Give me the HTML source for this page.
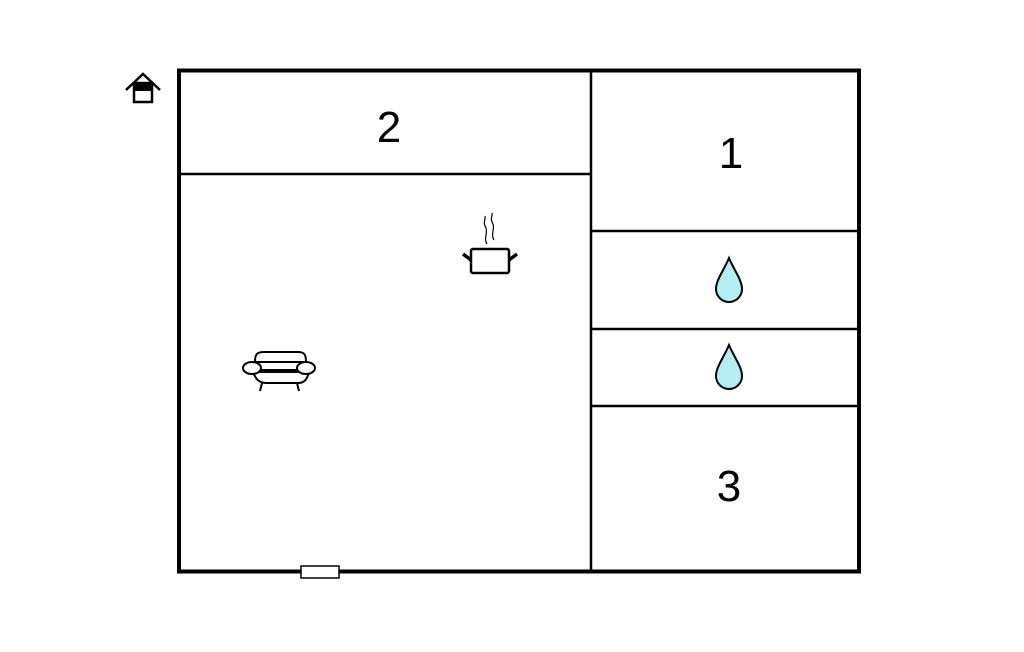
<!DOCTYPE html>
<html><head><style>html,body{margin:0;padding:0;background:#fff}svg{display:block}</style></head><body>
<svg width="1024" height="652" viewBox="0 0 1024 652" xmlns="http://www.w3.org/2000/svg">
<rect x="0" y="0" width="1024" height="652" fill="#fff"/>
<g stroke="#000" fill="none">
<rect x="179" y="70.5" width="680" height="501" stroke-width="4"/>
<line x1="591" y1="70" x2="591" y2="572" stroke-width="2.5"/>
<line x1="179" y1="174" x2="591" y2="174" stroke-width="2.5"/>
<line x1="591" y1="231" x2="859" y2="231" stroke-width="2.5"/>
<line x1="591" y1="329" x2="859" y2="329" stroke-width="2.5"/>
<line x1="591" y1="406" x2="859" y2="406" stroke-width="2.5"/>
</g>
<rect x="301" y="566" width="38" height="12" fill="#fff" stroke="#000" stroke-width="1.5"/>
<g font-family="Liberation Sans, sans-serif" font-size="44" text-anchor="middle" fill="#000">
<text x="389" y="142">2</text>
<text x="731" y="168">1</text>
<text x="729" y="501">3</text>
</g>
<!-- drops -->
<g fill="#b4eef5" stroke="#000" stroke-width="2">
<path d="M729,258 C724,270 716,280 716,289 A13,13 0 0 0 742,289 C742,280 734,270 729,258 Z"/>
<path d="M729,345 C724,357 716,367 716,376 A13,13 0 0 0 742,376 C742,367 734,357 729,345 Z"/>
</g>
<!-- home icon -->
<g stroke="#000" fill="none" stroke-width="2.5">
<polyline points="126,90 143,74 160,90"/>
<rect x="134" y="83" width="18" height="19" fill="#fff"/>
</g>
<rect x="134" y="83" width="18" height="8" fill="#000"/>
<!-- pot -->
<g stroke="#000" fill="none">
<rect x="471" y="249" width="38" height="24" rx="2" stroke-width="2.5"/>
<line x1="463" y1="254" x2="471" y2="260" stroke-width="3.5"/>
<line x1="517" y1="254" x2="509" y2="260" stroke-width="3.5"/>
<path d="M487,244 C483,238 489,232 485,226 C483,222 486,218 485,216" stroke-width="1.2"/>
<path d="M494,240 C490,234 496,228 492,222 C490,218 493,215 492,213" stroke-width="1.2"/>
</g>
<!-- sofa -->
<g stroke="#000" fill="#fff" stroke-width="2">
<path d="M255,362 C255,354 257,352 264,352 L298,352 C304,352 306,354 306,362 Z"/>
<path d="M253,372 C256,380 260,383 266,383 L298,383 C304,383 307,380 309,372 Z"/>
<line x1="262" y1="383" x2="260" y2="391"/>
<line x1="297" y1="383" x2="299" y2="391"/>
<line x1="259" y1="370" x2="302" y2="370"/>
<ellipse cx="252" cy="368" rx="9" ry="6"/>
<ellipse cx="306" cy="368" rx="9" ry="6"/>
</g>
</svg>
</body></html>
